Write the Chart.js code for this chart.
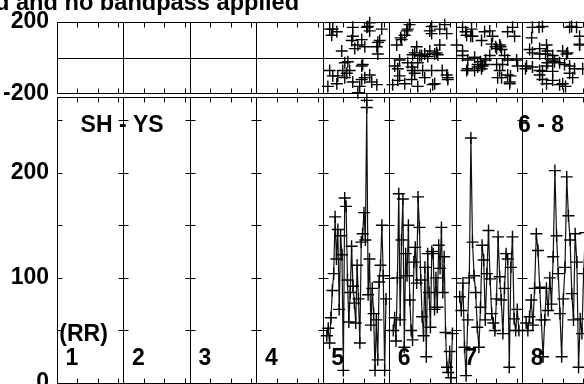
<!DOCTYPE html>
<html>
<head>
<meta charset="utf-8">
<script src="https://cdn.jsdelivr.net/npm/chart.js@4.4.0/dist/chart.umd.min.js"></script>
<style>
  html, body { margin: 0; padding: 0; width: 584px; height: 384px; overflow: hidden; background: #fff; }
  .box { position: absolute; left: 0; top: 0; width: 600px; }
  #title { position: absolute; left: -5px; top: -9.5px; font: bold 23.6px "Liberation Sans", Arial, sans-serif;
           line-height: 23px; white-space: nowrap; color: #000; }
</style>
</head>
<body>
<div class="box" style="height:420px"><canvas id="bottom"></canvas></div>
<div class="box" style="height:115px"><canvas id="top"></canvas></div>
<div id="title">d and no bandpass applied</div>
<script>
// time axis: 8 sections, each 3.256 time units long, ticks every unit
const SECTION = 3.256;
const N_SECTIONS = 8;
const FIRST_DATA_SECTION = 4;   // only sections 5-8 carry data
const DATA_START = 0.2, DATA_SPAN = 2.9;
const sectionLabels = ['1', '2', '3', '4', '5', '6', '7', '8'];

// lower panel: RR values, one array per section
const rr5 = [45, 52, 38, 62, 88, 104, 158, 118, 146, 70, 140, 122, 12, 176, 168, 98, 58, 86, 130, 92, 76, 57,
             112, 80, 38, 134, 142, 162, 136, 262, 84, 118, 55, 90, 66, 12, 60, 22, 96, 112, 150, 102, 12, 80];
const rr6 = [50, 62, 40, 100, 180, 60, 136, 175, 34, 123, 102, 150, 79, 50, 41, 115, 129, 95, 177, 148, 98, 63,
             45, 110, 25, 123, 86, 53, 125, 123, 70, 100, 72, 131, 109, 148, 86, 120, 48, 15, 10, 30, 5, 47];
const rr7 = [82, 69, 95, 34, 7, 60, 100, 233, 134, 102, 86, 53, 34, 72, 131, 117, 60, 104, 145, 99, 66, 57,
             50, 80, 139, 101, 79, 47, 90, 123, 118, 15, 110, 139, 61, 50, 70, 50];
const rr8 = [57, 50, 63, 79, 55, 90, 142, 126, 91, 60, 25, 60, 90, 69, 100, 75, 120, 202, 140, 104, 66, 25,
             80, 110, 196, 159, 136, 85, 60, 142, 115, 15, 61, 47, 104, 143];

// upper panel: scattered points, [time within section, value]
const top5 = [[0.25,-162],[0.34,159],[0.34,-73],[0.44,125],[0.49,159],[0.49,-103],[0.69,144],[0.69,-147],
  [0.74,-103],[0.93,36],[0.98,-73],[1.08,-113],[1.08,-29],[1.18,-88],[1.23,-24],[1.32,-73],[1.42,95],
  [1.47,169],[1.47,119],[1.47,-137],[1.57,50],[1.72,70],[1.72,-197],[1.81,-162],[1.91,100],[1.91,-48],
  [1.91,-123],[1.96,-39],[2.06,60],[2.06,-113],[2.16,-240],[2.16,169],[2.21,174],[2.30,149],[2.30,194],
  [2.30,-98],[2.40,-137],[2.65,60],[2.65,-152],[2.70,20],[2.70,85],[2.79,95],[2.89,159]];
const top6 = [[0.17,-152],[0.27,-48],[0.37,70],[0.42,-63],[0.42,-128],[0.51,-14],[0.51,-103],[0.56,110],
  [0.61,100],[0.76,125],[0.76,-147],[0.86,149],[0.91,159],[0.91,-29],[1.00,184],[1.10,-53],[1.10,-123],
  [1.15,15],[1.15,-73],[1.25,26],[1.25,-88],[1.35,60],[1.40,-29],[1.40,-162],[1.50,10],[1.59,11],
  [1.64,-73],[1.74,20],[1.74,-113],[1.89,5],[1.99,36],[1.99,149],[2.08,174],[2.08,134],[2.08,-73],
  [2.13,-152],[2.23,20],[2.23,-147],[2.33,26],[2.38,15],[2.48,159],[2.48,70],[2.60,-73],[2.72,184],
  [2.82,134],[2.82,-98],[2.87,-113],[2.87,-123]];
const top7 = [[0.05,70],[0.34,169],[0.34,36],[0.34,11],[0.49,144],[0.54,125],[0.54,-73],[0.59,-14],
  [0.59,-63],[0.74,119],[0.78,159],[0.83,119],[0.93,-73],[0.93,1],[1.08,-39],[1.08,-53],[1.22,-24],
  [1.27,95],[1.27,-63],[1.32,-48],[1.42,144],[1.42,-39],[1.47,-14],[1.67,149],[1.67,11],[1.76,75],
  [1.81,119],[1.96,60],[2.01,50],[2.01,-39],[2.06,-113],[2.16,70],[2.16,-73],[2.20,60],[2.25,45],
  [2.25,-113],[2.30,-39],[2.40,11],[2.55,144],[2.55,-14],[2.55,-98],[2.65,-137],[2.65,-147],[2.69,-103],
  [2.79,169],[2.89,119],[2.99,-14],[3.04,-48]];
const top8 = [[0.17,-63],[0.22,-48],[0.37,45],[0.47,110],[0.51,169],[0.51,26],[0.51,-53],[0.83,169],
  [0.86,20],[0.86,50],[0.86,-73],[0.86,-98],[1.00,174],[1.00,-78],[1.00,-123],[1.15,20],[1.20,70],
  [1.20,-48],[1.20,-147],[1.25,36],[1.25,-29],[1.50,11],[1.50,-14],[1.50,-78],[1.50,-128],[1.59,-24],
  [1.84,-29],[1.84,-152],[1.99,36],[1.99,-147],[2.08,-39],[2.13,-162],[2.18,20],[2.23,26],[2.33,169],
  [2.33,-48],[2.33,-88],[2.43,174],[2.48,-113],[2.57,-63],[2.67,169],[2.82,119],[2.82,70],[2.82,75],
  [2.97,-63]];

const rrSections = [rr5, rr6, rr7, rr8];
const topSections = [top5, top6, top7, top8];

const FONT = { family: '"Liberation Sans", Arial, sans-serif', size: 23, weight: 'bold' };
const TICK = 5;

function px(v) { return Math.round(v) + 0.5; }

// frame, section lines and the little tick marks
const panelGrid = {
  id: 'panelGrid',
  beforeDatasetsDraw(chart, args, opts) {
    const { ctx, chartArea: a, scales: { x, y } } = chart;
    const L = px(a.left), R = px(a.right), T = px(a.top), B = px(a.bottom);
    ctx.save();
    ctx.strokeStyle = '#000';
    ctx.lineWidth = 1;
    ctx.beginPath();
    ctx.moveTo(R, T); ctx.lineTo(L, T); ctx.lineTo(L, B); ctx.lineTo(R, B);
    for (let s = 0; s < N_SECTIONS; s++) {
      const xs = px(x.getPixelForValue(s * SECTION));
      ctx.moveTo(xs, T); ctx.lineTo(xs, B);
      for (let t = 1; t <= 3; t++) {
        const xt = px(x.getPixelForValue(s * SECTION + t));
        ctx.moveTo(xt, T); ctx.lineTo(xt, T + TICK);
        ctx.moveTo(xt, B); ctx.lineTo(xt, B - TICK);
      }
      (opts.valueTicks || []).forEach(v => {
        const yv = px(y.getPixelForValue(v));
        ctx.moveTo(s === 0 ? xs : xs - TICK, yv); ctx.lineTo(xs + TICK, yv);
      });
    }
    if (opts.zeroLine) {
      const y0 = px(y.getPixelForValue(0));
      ctx.moveTo(L, y0); ctx.lineTo(R, y0);
    }
    ctx.stroke();
    ctx.restore();
  },
  afterDatasetsDraw(chart, args, opts) {
    if (!opts.notes) return;
    const { ctx, scales: { x, y } } = chart;
    ctx.save();
    ctx.fillStyle = '#000';
    ctx.font = `bold ${FONT.size}px ${FONT.family}`;
    ctx.textAlign = 'center';
    ctx.textBaseline = 'alphabetic';
    sectionLabels.forEach((txt, s) => {
      ctx.fillText(txt, x.getPixelForValue(s * SECTION + 0.735), y.getPixelForValue(17));
    });
    opts.notes.forEach(n => ctx.fillText(n.text, x.getPixelForValue(n.t), y.getPixelForValue(n.v)));
    ctx.restore();
  }
};

function yAxis(min, max, step, show) {
  return {
    min, max,
    grid: { display: false, drawTicks: false },
    border: { display: false },
    ticks: { stepSize: step, includeBounds: false, padding: 8, color: '#000', font: FONT,
             callback: v => show.includes(v) ? String(v) : '' },
    afterFit(scale) { scale.width = 57; }
  };
}

const xAxis = { type: 'linear', display: false, min: 0, max: N_SECTIONS * SECTION };

const bottomSets = rrSections.map((vals, k) => ({
  data: vals.map((v, i) => ({
    x: (FIRST_DATA_SECTION + k) * SECTION + DATA_START + i * DATA_SPAN / (vals.length - 1),
    y: v
  })),
  showLine: true,
  borderColor: '#111',
  borderWidth: 1.2,
  tension: 0,
  pointStyle: 'cross',
  pointRadius: 6,
  pointBorderWidth: 1.4,
  pointBorderColor: '#000'
}));

const topSets = topSections.map((pts, k) => ({
  data: pts.map(p => ({ x: (FIRST_DATA_SECTION + k) * SECTION + p[0], y: p[1] })),
  showLine: false,
  clip: false,
  pointStyle: 'cross',
  pointRadius: 6,
  pointBorderWidth: 1.4,
  pointBorderColor: '#000'
}));

new Chart(document.getElementById('bottom'), {
  type: 'scatter',
  data: { datasets: bottomSets },
  options: {
    responsive: true, maintainAspectRatio: false, animation: false,
    layout: { padding: { top: 97, bottom: 37, left: 0, right: 11.5 } },
    plugins: {
      legend: { display: false }, tooltip: { enabled: false },
      panelGrid: {
        valueTicks: [50, 100, 150, 200, 250],
        notes: [
          { text: 'SH - YS', t: 3.19, v: 239 },
          { text: '6 - 8', t: 23.72, v: 239 },
          { text: '(RR)', t: 1.30, v: 40 }
        ]
      }
    },
    scales: { x: xAxis, y: yAxis(0, 272, 100, [0, 100, 200]) }
  },
  plugins: [panelGrid]
});

new Chart(document.getElementById('top'), {
  type: 'scatter',
  data: { datasets: topSets },
  options: {
    responsive: true, maintainAspectRatio: false, animation: false,
    layout: { padding: { top: 17, bottom: 18, left: 0, right: 11.5 } },
    plugins: {
      legend: { display: false }, tooltip: { enabled: false },
      panelGrid: { zeroLine: true }
    },
    scales: { x: xAxis, y: yAxis(-200, 200, 200, [-200, 200]) }
  },
  plugins: [panelGrid]
});
</script>
</body>
</html>
